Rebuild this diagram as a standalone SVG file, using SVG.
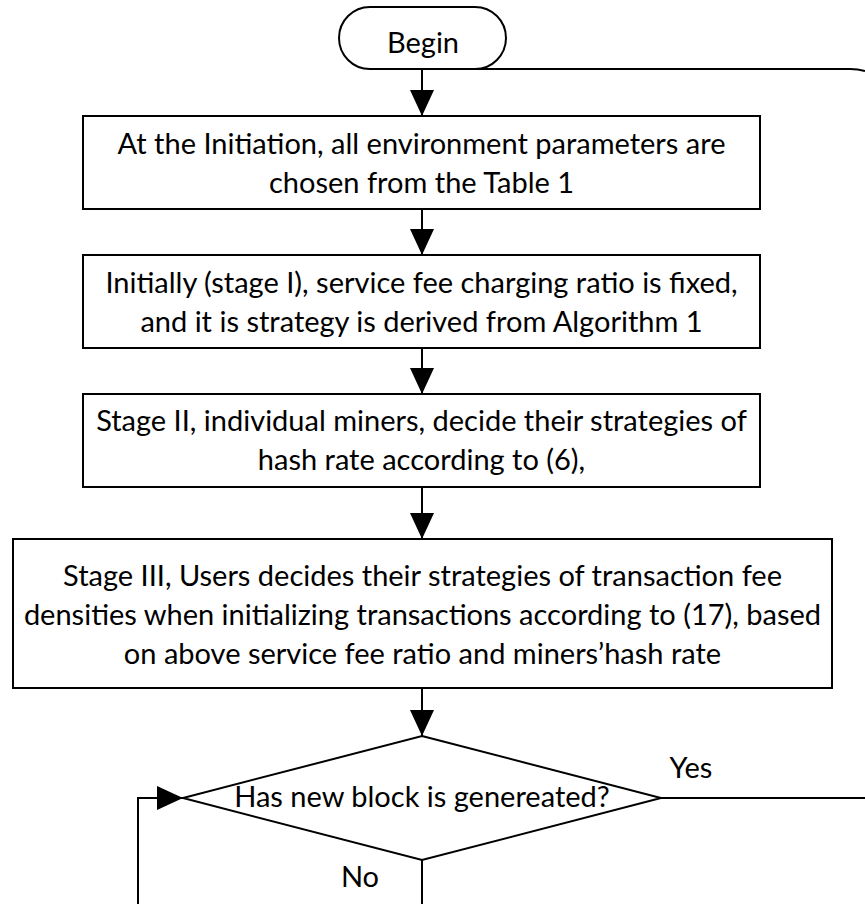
<svg xmlns="http://www.w3.org/2000/svg" width="865" height="904" viewBox="0 0 865 904">
<defs>
<style>
.n{fill:#fff;stroke:#000;stroke-width:2}
.t{font-family:Lato,"Liberation Sans",sans-serif;font-size:29px;fill:#000;text-anchor:middle}
.c{fill:none;stroke:#000;stroke-width:2}
</style>
<marker id="ah" viewBox="0 0 26 24" refX="26" refY="12" markerWidth="26" markerHeight="24" markerUnits="userSpaceOnUse" orient="auto">
<path d="M0,0 L26,12 L0,24 Z" fill="#000"/>
</marker>
</defs>
<rect width="865" height="904" fill="#fff"/>
<g id="connectors">
<path class="c" d="M422,69 L850,69 Q858,69 865,71"/>
<path class="c" d="M422,69 L422,116" marker-end="url(#ah)"/>
<path class="c" d="M422,209 L422,255" marker-end="url(#ah)"/>
<path class="c" d="M422,348 L422,394" marker-end="url(#ah)"/>
<path class="c" d="M422,487 L422,539" marker-end="url(#ah)"/>
<path class="c" d="M422,688 L422,736" marker-end="url(#ah)"/>
<path class="c" d="M661,798 L865,798"/>
<path class="c" d="M422,860 L422,904"/>
<path class="c" d="M138,904 L138,798 L183,798" marker-end="url(#ah)"/>
<text class="t" x="691" y="778">Yes</text>
<text class="t" x="360" y="887">No</text>
</g>
<g id="begin">
<rect class="n" x="339" y="7" width="167" height="62" rx="31"/>
<text class="t" x="423" y="53">Begin</text>
</g>
<g id="init">
<rect class="n" x="83" y="116" width="677" height="93"/>
<text class="t" x="421.5" y="154">At the Initiation, all environment parameters are</text>
<text class="t" x="421.5" y="193">chosen from the Table 1</text>
</g>
<g id="stage1">
<rect class="n" x="83" y="255" width="677" height="93"/>
<text class="t" x="421.5" y="293">Initially (stage I), service fee charging ratio is fixed,</text>
<text class="t" x="421.5" y="332">and it is strategy is derived from Algorithm 1</text>
</g>
<g id="stage2">
<rect class="n" x="83" y="394" width="677" height="93"/>
<text class="t" x="421.5" y="431">Stage II, individual miners, decide their strategies of</text>
<text class="t" x="421.5" y="470">hash rate according to (6),</text>
</g>
<g id="stage3">
<rect class="n" x="13" y="539" width="819" height="149"/>
<text class="t" x="422.5" y="586">Stage III, Users decides their strategies of transaction fee</text>
<text class="t" x="422.5" y="625">densities when initializing transactions according to (17), based</text>
<text class="t" x="422.5" y="664">on above service fee ratio and miners’hash rate</text>
</g>
<g id="decision">
<polygon class="n" points="422,736 661,798 422,860 183,798"/>
<text class="t" x="422" y="807">Has new block is genereated?</text>
</g>
</svg>
